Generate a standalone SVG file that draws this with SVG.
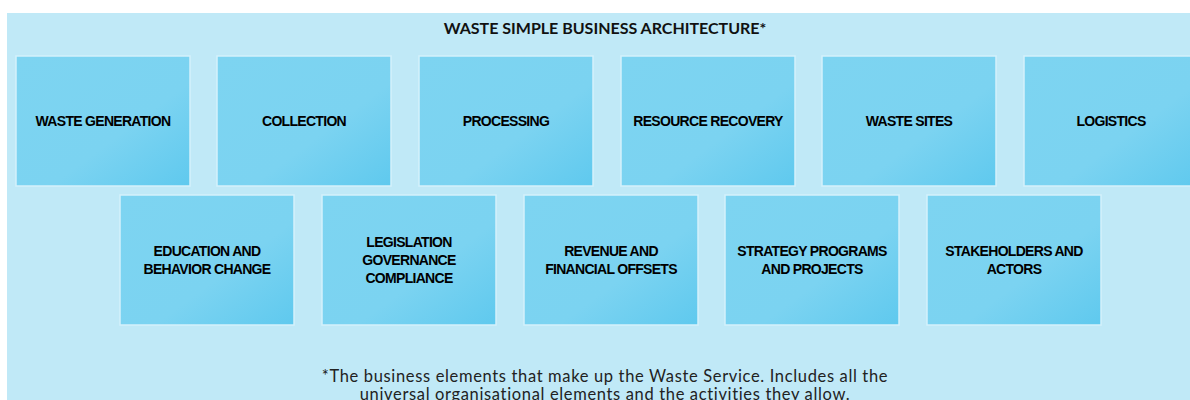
<svg xmlns="http://www.w3.org/2000/svg" width="1190" height="400" viewBox="0 0 1190 400">
<defs>
<linearGradient id="g" x1="0" y1="0" x2="1" y2="1">
<stop offset="0" stop-color="#7dd4f1"/>
<stop offset="0.6" stop-color="#7bd3f1"/>
<stop offset="1" stop-color="#5fc9ee"/>
</linearGradient>
<style>
.box{fill:url(#g);stroke:#d4f1fb;stroke-width:1.5}
.lbl{font-family:"Liberation Sans",Arial,sans-serif;font-weight:bold;font-size:14px;letter-spacing:-0.7px;fill:#000;text-anchor:middle}
.title{font-family:Lato,"Liberation Sans",sans-serif;font-weight:bold;font-size:16px;fill:#111;text-anchor:middle}
.foot{font-family:Lato,"Liberation Sans",sans-serif;font-size:16.5px;letter-spacing:0.65px;fill:#222;text-anchor:middle}
</style>
</defs>
<rect x="0" y="0" width="1190" height="400" fill="#ffffff"/>
<rect id="container" x="7" y="13" width="1190" height="400" fill="#c0e9f7"/>
<text class="title" x="605" y="34">WASTE SIMPLE BUSINESS ARCHITECTURE*</text>
<g id="waste-generation"><rect class="box" x="16" y="56" width="174" height="130"/><text class="lbl" x="103" y="126">WASTE GENERATION</text></g>
<g id="collection"><rect class="box" x="217" y="56" width="174" height="130"/><text class="lbl" x="304" y="126">COLLECTION</text></g>
<g id="processing"><rect class="box" x="419" y="56" width="174" height="130"/><text class="lbl" x="506" y="126">PROCESSING</text></g>
<g id="resource-recovery"><rect class="box" x="621" y="56" width="174" height="130"/><text class="lbl" x="708" y="126">RESOURCE RECOVERY</text></g>
<g id="waste-sites"><rect class="box" x="822" y="56" width="174" height="130"/><text class="lbl" x="909" y="126">WASTE SITES</text></g>
<g id="logistics"><rect class="box" x="1024" y="56" width="174" height="130"/><text class="lbl" x="1111" y="126">LOGISTICS</text></g>
<g id="education"><rect class="box" x="120" y="195" width="174" height="130"/><text class="lbl" x="207" y="256">EDUCATION AND</text><text class="lbl" x="207" y="274">BEHAVIOR CHANGE</text></g>
<g id="legislation"><rect class="box" x="322" y="195" width="174" height="130"/><text class="lbl" x="409" y="247">LEGISLATION</text><text class="lbl" x="409" y="265">GOVERNANCE</text><text class="lbl" x="409" y="283">COMPLIANCE</text></g>
<g id="revenue"><rect class="box" x="524" y="195" width="174" height="130"/><text class="lbl" x="611" y="256">REVENUE AND</text><text class="lbl" x="611" y="274">FINANCIAL OFFSETS</text></g>
<g id="strategy"><rect class="box" x="725" y="195" width="174" height="130"/><text class="lbl" x="812" y="256">STRATEGY PROGRAMS</text><text class="lbl" x="812" y="274">AND PROJECTS</text></g>
<g id="stakeholders"><rect class="box" x="927" y="195" width="174" height="130"/><text class="lbl" x="1014" y="256">STAKEHOLDERS AND</text><text class="lbl" x="1014" y="274">ACTORS</text></g>
<g id="connectors"></g>
<text class="foot" x="605" y="382">*The business elements that make up the Waste Service. Includes all the</text>
<text class="foot" x="605" y="400">universal organisational elements and the activities they allow.</text>
</svg>
